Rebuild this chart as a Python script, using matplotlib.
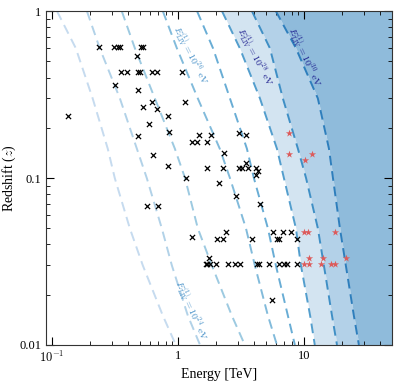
import matplotlib
matplotlib.use("Agg")
import matplotlib.pyplot as plt
import matplotlib.ticker as mticker
import numpy as np

plt.rcParams["font.family"] = ["Liberation Serif", "DejaVu Serif"]
plt.rcParams["mathtext.fontset"] = "cm"
plt.rcParams["font.size"] = 9

# horizon curves: energy [TeV] read at these redshifts
z_grid = [1.0, 0.6, 0.3, 0.15, 0.1, 0.05, 0.03, 0.015, 0.01]
curve_1 = [0.110, 0.155, 0.211, 0.278, 0.316, 0.416, 0.527, 0.760, 0.964]
curve_2 = [0.190, 0.240, 0.347, 0.473, 0.567, 0.746, 0.896, 1.20, 1.50]
curve_3 = [0.359, 0.456, 0.657, 0.947, 1.14, 1.44, 1.86, 2.68, 3.40]
curve_4 = [0.760, 0.982, 1.44, 2.15, 2.59, 3.47, 4.08, 5.18, 6.11]
curve_5 = [1.42, 1.90, 2.59, 3.53, 4.01, 5.18, 5.99, 7.46, 8.48]
curve_6 = [2.24, 3.10, 4.48, 6.11, 6.94, 8.64, 9.47, 11.2, 12.2]
curve_7 = [3.87, 5.37, 6.81, 8.96, 10.4, 12.9, 14.4, 16.7, 18.3]
curve_8 = [5.99, 8.64, 12.9, 15.8, 17.0, 19.3, 21.5, 24.9, 27.3]
curves = [curve_1, curve_2, curve_3, curve_4, curve_5, curve_6, curve_7, curve_8]

# observed sources (black crosses)
src_e = [0.236, 0.311, 0.334, 0.347, 0.508, 0.527,
         0.473,
         0.353, 0.394, 0.482, 0.499, 0.622, 0.681, 1.08,
         0.316, 0.482, 0.622, 1.14, 0.527, 0.681,
         0.134, 0.834, 0.589, 0.849, 0.482,
         1.47, 1.83, 1.29, 1.42, 1.70, 3.05, 3.47, 2.32, 0.634,
         0.834, 1.70, 2.28, 3.05, 3.22, 3.47, 3.60, 4.2, 4.3, 4.2,
         1.16, 2.11, 2.88, 4.48, 0.568, 0.694,
         1.29, 2.04, 2.28, 2.40, 3.87, 5.68, 6.1, 6.3, 6.8, 7.9, 8.8,
         1.76,
         1.67, 1.70, 1.79, 2.02, 2.52, 2.85, 3.10, 4.24, 4.39, 5.27,
         6.3, 6.9, 7.3, 8.8,
         5.57]
src_z = [0.609, 0.609, 0.609, 0.609, 0.609, 0.609,
         0.538,
         0.431, 0.431, 0.431, 0.431, 0.431, 0.431, 0.431,
         0.360, 0.336, 0.285, 0.285, 0.266, 0.259,
         0.235, 0.235, 0.211, 0.189, 0.178,
         0.182, 0.182, 0.164, 0.164, 0.164, 0.186, 0.182, 0.141, 0.137,
         0.118, 0.115, 0.115, 0.115, 0.115, 0.123, 0.115, 0.115, 0.110, 0.104,
         0.100, 0.0933, 0.078, 0.070, 0.068, 0.068,
         0.0443, 0.0431, 0.0431, 0.0472, 0.0431, 0.0472, 0.0431, 0.0431,
         0.0472, 0.0472, 0.0431,
         0.0334,
         0.0305, 0.0305, 0.0305, 0.0305, 0.0305, 0.0305, 0.0305, 0.0305,
         0.0305, 0.0305, 0.0305, 0.0305, 0.0305, 0.0305,
         0.0185]

# highlighted sources (red stars)
star_e = [7.6, 7.6, 11.6, 10.2, 10.0, 10.8, 17.6, 11.0, 14.2, 21.5,
          10.0, 11.0, 13.6, 16.4, 17.6]
star_z = [0.186, 0.139, 0.139, 0.128, 0.0472, 0.0472, 0.0472, 0.0334,
          0.0334, 0.0334, 0.0305, 0.0305, 0.0305, 0.0305, 0.0305]

fig = plt.figure(figsize=(3.98, 3.84), dpi=100)
ax = fig.add_axes([0.1156, 0.1016, 0.8694, 0.8694])

x_max = 50
ax.fill_betweenx(z_grid, curve_6, curve_7, color="#d3e4f1", lw=0)
ax.fill_betweenx(z_grid, curve_7, curve_8, color="#b3d1e8", lw=0)
ax.fill_betweenx(z_grid, curve_8, x_max, color="#8fbbdb", lw=0)

line_cols = plt.cm.Blues(np.linspace(0.25, 0.7, len(curves)))
for c, col in zip(curves, line_cols):
    ax.plot(c, z_grid, ls=(0, (5, 3)), color=col, lw=1.4)

ax.scatter(src_e, src_z, marker="x", s=14, c="k", lw=0.9, zorder=5)
ax.scatter(star_e, star_z, marker="*", s=30, c="#dd5b5b", lw=0, zorder=5)

lab = r"$E_{\rm LIV}^{(1)} = 10^{%d}\ {\rm eV}$"
ax.text(1.27, 0.0162, lab % 24, rotation=-66, color="#3f8cc6", fontsize=7,
        ha="center", va="center")
ax.text(1.27, 0.545, lab % 26, rotation=-63, color="#3f8cc6", fontsize=7,
        ha="center", va="center")
ax.text(4.08, 0.53, lab % 28, rotation=-62, color="#15158a", fontsize=7,
        ha="center", va="center")
ax.text(10.2, 0.53, lab % 30, rotation=-65, color="#15158a", fontsize=7,
        ha="center", va="center")

ax.set_xscale("log")
ax.set_yscale("log")
ax.set_xlim(0.09, x_max)
ax.set_ylim(0.01, 1)
ax.set_xlabel("Energy [TeV]", fontsize=10, labelpad=2)
ax.set_ylabel(r"Redshift ($z$)", fontsize=10)
ax.yaxis.set_label_coords(-0.08, 0.5)

ax.xaxis.set_major_formatter(mticker.FuncFormatter(
    lambda v, p: {0.1: r"$10^{-1}$", 1: "1", 10: "10"}.get(round(v, 3), "")))
ax.yaxis.set_major_formatter(mticker.FuncFormatter(
    lambda v, p: {0.01: "0.01", 0.1: "0.1", 1: "1"}.get(round(v, 3), "")))
ax.tick_params(which="both", direction="in", top=True, right=True)
ax.tick_params(which="major", length=6, width=0.8)
ax.tick_params(which="minor", length=3, width=0.6)
for s in ax.spines.values():
    s.set_color("#333333")

fig.savefig("out.png", dpi=100)
